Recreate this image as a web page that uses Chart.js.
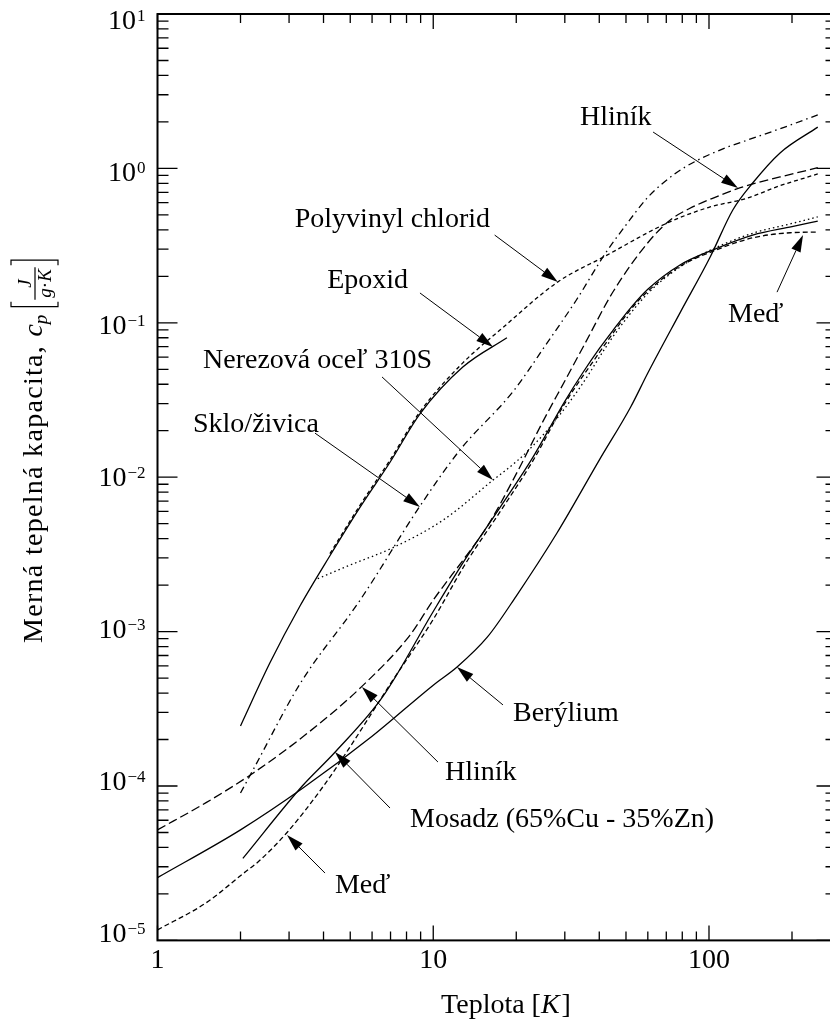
<!DOCTYPE html>
<html lang="sk">
<head>
<meta charset="utf-8">
<title>Merná tepelná kapacita</title>
<script src="https://cdn.jsdelivr.net/npm/chart.js@4/dist/chart.umd.min.js"></script>
<style>
  html, body { margin: 0; background: #fff; overflow: hidden; }
  canvas { display: block; }
</style>
</head>
<body>
<canvas id="chartCp" width="870" height="1024"></canvas>
<script>
const FONT = '"Liberation Serif", "Times New Roman", serif'

// temperature [K] and specific heat [J/(g·K)] for each material
const epoxidT  = [2, 2.56, 3.29, 4.22, 5.43, 6.97, 8.95, 12.8, 18.5]
const epoxidCp = [2.45e-4, 6.3e-4, 1.47e-3, 3.1e-3, 6.4e-3, 0.0125, 0.0257, 0.0517, 0.08]

const pvcT  = [4.22, 5.43, 6.97, 8.95, 12.8, 17.5, 28.3, 42, 70, 100, 137, 180, 248]
const pvcCp = [3.2e-3, 6.6e-3, 0.0129, 0.0265, 0.055, 0.09, 0.184, 0.27, 0.44, 0.56, 0.64, 0.77, 0.92]

const skloT  = [2, 2.22, 3.29, 5.43, 8.95, 12.5, 19.5, 26, 33, 42, 50, 60, 75, 90, 115, 137, 180, 248]
const skloCp = [9e-5, 1.27e-4, 4.6e-4, 1.6e-3, 6.5e-3, 0.015, 0.036, 0.075, 0.14, 0.28, 0.43, 0.65, 0.92, 1.12, 1.36, 1.52, 1.8, 2.22]

const ocelT  = [3.81, 5, 7.15, 10.9, 16.5, 20.2, 23, 27, 34, 45, 60, 80, 103, 144, 200, 248]
const ocelCp = [2.2e-3, 2.7e-3, 3.5e-3, 5.3e-3, 9.6e-3, 0.0128, 0.016, 0.022, 0.038, 0.082, 0.155, 0.235, 0.3, 0.38, 0.44, 0.485]

const hlinikT  = [1, 1.5, 2.22, 3.5, 5.5, 8.24, 10, 13, 15.7, 20, 25, 30, 35, 45, 60, 72, 85, 103, 130, 181, 248]
const hlinikCp = [5.2e-5, 7.8e-5, 1.21e-4, 2.2e-4, 4.4e-4, 9.5e-4, 1.6e-3, 3.0e-3, 4.8e-3, 0.0105, 0.023, 0.042, 0.07, 0.16, 0.33, 0.46, 0.55, 0.64, 0.75, 0.88, 1.01]

const mosadzT  = [2.04, 3.35, 4.41, 6.57, 10, 13, 17.5, 23, 30, 35, 40, 45, 52, 60, 78.5, 103, 144, 200, 248]
const mosadzCp = [3.4e-5, 1.0e-4, 1.66e-4, 3.8e-4, 1.35e-3, 2.9e-3, 6.4e-3, 0.0135, 0.031, 0.048, 0.068, 0.09, 0.125, 0.165, 0.237, 0.296, 0.37, 0.42, 0.456]

const medT  = [1, 1.5, 2.04, 2.35, 2.95, 4, 5, 7, 10, 13, 17.5, 23, 30, 40, 52, 60, 78.5, 103, 144, 197, 248]
const medCp = [1.17e-5, 1.75e-5, 2.7e-5, 3.3e-5, 5.0e-5, 1.0e-4, 1.8e-4, 4.6e-4, 1.2e-3, 2.7e-3, 6.0e-3, 0.0128, 0.03, 0.064, 0.122, 0.16, 0.232, 0.29, 0.355, 0.383, 0.387]

const beT  = [1, 2, 3.37, 6, 10, 12.2, 15.7, 20, 28.1, 40, 52, 60, 78.5, 101, 122, 144, 181, 248]
const beCp = [2.55e-5, 5.2e-5, 9.7e-5, 2.1e-4, 4.5e-4, 5.9e-4, 9.2e-4, 1.7e-3, 4.35e-3, 0.0129, 0.0285, 0.0473, 0.116, 0.267, 0.538, 0.804, 1.26, 1.85]

// axis ticks
const xTickLabels = [1, 10, 100]
const yExponents = [1, 0, -1, -2, -3, -4, -5]

// labels with arrows, positions in data units [T, cp]
const notes = [
  {text: 'Hliník', at: [34.06, 1.91], align: 'left', tail: [62.7, 1.72], tip: [127.4, 0.746]},
  {text: 'Polyvinyl chlorid', at: [16.06, 0.4173], align: 'right', tail: [16.7, 0.370], tip: [28.3, 0.1837]},
  {text: 'Epoxid', at: [8.10, 0.168], align: 'right', tail: [8.95, 0.156], tip: [16.47, 0.0697]},
  {text: 'Nerezová oceľ 310S', at: [1.462, 0.051], align: 'left', tail: [6.52, 0.0446], tip: [16.47, 0.00959]},
  {text: 'Sklo/živica', at: [1.345, 0.0196], align: 'left', tail: [3.725, 0.0193], tip: [8.95, 0.00641]},
  {text: 'Berýlium', at: [19.46, 2.64e-4], align: 'left', tail: [17.9, 3.35e-4], tip: [12.19, 5.9e-4]},
  {text: 'Hliník', at: [11.03, 1.094e-4], align: 'left', tail: [10.4, 1.43e-4], tip: [5.515, 4.38e-4]},
  {text: 'Mosadz (65%Cu - 35%Zn)', at: [8.24, 5.43e-5], align: 'left', tail: [6.97, 7.2e-5], tip: [4.40, 1.66e-4]},
  {text: 'Meď', at: [4.40, 2.03e-5], align: 'left', tail: [4.05, 2.73e-5], tip: [2.949, 4.82e-5]},
  {text: 'Meď', at: [117.2, 0.1012], align: 'left', tail: [176.5, 0.158], tip: [219.3, 0.370]},
]

const materials = [
  {label: 'Epoxid', t: epoxidT, cp: epoxidCp, dash: []},
  {label: 'Polyvinyl chlorid', t: pvcT, cp: pvcCp, dash: [4, 3]},
  {label: 'Sklo/živica', t: skloT, cp: skloCp, dash: [7, 4, 1.5, 4]},
  {label: 'Nerezová oceľ 310S', t: ocelT, cp: ocelCp, dash: [1.5, 3]},
  {label: 'Hliník', t: hlinikT, cp: hlinikCp, dash: [9, 4]},
  {label: 'Mosadz', t: mosadzT, cp: mosadzCp, dash: []},
  {label: 'Meď', t: medT, cp: medCp, dash: [5, 3]},
  {label: 'Berýlium', t: beT, cp: beCp, dash: []},
]

const datasets = materials.map(m => ({
  label: m.label,
  data: m.t.map((t, i) => ({x: t, y: m.cp[i]})),
  borderColor: '#000',
  borderWidth: 1.3,
  borderDash: m.dash,
  pointRadius: 0,
  fill: false,
  cubicInterpolationMode: 'monotone',
}))

function arrow(ctx, x0, y0, x1, y1) {
  const len = 17, half = 5
  const ang = Math.atan2(y1 - y0, x1 - x0)
  const bx = x1 - len * Math.cos(ang), by = y1 - len * Math.sin(ang)
  ctx.beginPath()
  ctx.moveTo(x0, y0)
  ctx.lineTo(bx, by)
  ctx.stroke()
  ctx.beginPath()
  ctx.moveTo(x1, y1)
  ctx.lineTo(bx + half * Math.sin(ang), by - half * Math.cos(ang))
  ctx.lineTo(bx - half * Math.sin(ang), by + half * Math.cos(ang))
  ctx.closePath()
  ctx.fill()
}

function drawYTitle(ctx, cx, cy) {
  ctx.save()
  ctx.translate(cx, cy)
  ctx.rotate(-Math.PI / 2)
  ctx.textAlign = 'left'
  ctx.textBaseline = 'alphabetic'
  ctx.letterSpacing = '1.3px'
  let x = 0
  ctx.font = `28px ${FONT}`
  const head = 'Merná tepelná kapacita, '
  ctx.fillText(head, x, 0)
  x += ctx.measureText(head).width
  ctx.letterSpacing = '0px'
  ctx.font = `italic 28px ${FONT}`
  ctx.fillText('c', x, 0)
  x += ctx.measureText('c').width
  ctx.font = `italic 19px ${FONT}`
  ctx.fillText('p', x, 5)
  x += ctx.measureText('p').width + 8

  // [ J / g·K ]
  ctx.font = `italic 19px ${FONT}`
  const numW = ctx.measureText('J').width
  const gW = ctx.measureText('g').width
  const kW = ctx.measureText('K').width
  ctx.font = `19px ${FONT}`
  const dotW = ctx.measureText('·').width
  const denW = gW + dotW + kW
  const fracW = Math.max(numW, denW) + 4
  const bar = -7
  ctx.lineWidth = 1.2
  ctx.beginPath()
  ctx.moveTo(x + 5, -31); ctx.lineTo(x, -31); ctx.lineTo(x, 16); ctx.lineTo(x + 5, 16)
  const fx = x + 7
  ctx.moveTo(fx, bar); ctx.lineTo(fx + fracW, bar)
  const rx = fx + fracW + 2
  ctx.moveTo(rx, -31); ctx.lineTo(rx + 5, -31); ctx.lineTo(rx + 5, 16); ctx.lineTo(rx, 16)
  ctx.stroke()
  ctx.font = `italic 19px ${FONT}`
  ctx.fillText('J', fx + (fracW - numW) / 2, bar - 4)
  let dx = fx + (fracW - denW) / 2
  ctx.fillText('g', dx, bar + 16)
  dx += gW
  ctx.font = `19px ${FONT}`
  ctx.fillText('·', dx, bar + 16)
  dx += dotW
  ctx.font = `italic 19px ${FONT}`
  ctx.fillText('K', dx, bar + 16)
  ctx.restore()
}

const frame = {
  id: 'frame',
  afterDraw(chart) {
    const {ctx, chartArea: a} = chart
    const sx = chart.scales.x, sy = chart.scales.y
    ctx.save()
    ctx.strokeStyle = '#000'
    ctx.fillStyle = '#000'

    // inward ticks on all four sides
    ctx.lineWidth = 1.3
    ctx.beginPath()
    for (const d of [1, 10, 100]) {
      for (let k = 1; k < 10; k++) {
        const v = d * k
        if (v > sx.max) break
        const px = sx.getPixelForValue(v)
        const len = k === 1 ? 15 : 9
        ctx.moveTo(px, a.bottom); ctx.lineTo(px, a.bottom - len)
        ctx.moveTo(px, a.top); ctx.lineTo(px, a.top + len)
      }
    }
    for (let e = -5; e <= 1; e++) {
      for (let k = 1; k < 10; k++) {
        const v = k * Math.pow(10, e)
        if (v > sy.max * 1.0001) break
        const py = sy.getPixelForValue(v)
        const len = k === 1 ? 20 : 11
        ctx.moveTo(a.left, py); ctx.lineTo(a.left + len, py)
        ctx.moveTo(a.right, py); ctx.lineTo(a.right - len, py)
      }
    }
    ctx.stroke()
    ctx.lineWidth = 2
    ctx.strokeRect(a.left, a.top, a.right - a.left, a.bottom - a.top)

    // tick labels
    ctx.textBaseline = 'alphabetic'
    for (const e of yExponents) {
      const py = sy.getPixelForValue(Math.pow(10, e))
      const base = py + 2 + (e + 5) * 2.2
      const sup = e < 0 ? '\u2212' + (-e) : String(e)
      ctx.font = `17px ${FONT}`
      const supW = ctx.measureText(sup).width
      ctx.textAlign = 'left'
      ctx.fillText(sup, a.left - 12 - supW, base - 8)
      ctx.font = `28px ${FONT}`
      ctx.textAlign = 'right'
      ctx.fillText('10', a.left - 13 - supW, base)
    }
    ctx.font = `28px ${FONT}`
    ctx.textAlign = 'center'
    for (const v of xTickLabels) {
      ctx.fillText(String(v), sx.getPixelForValue(v), a.bottom + 28)
    }

    // x title: Teplota [K]
    ctx.textAlign = 'left'
    ctx.font = `28px ${FONT}`
    const w1 = ctx.measureText('Teplota [').width
    const w3 = ctx.measureText(']').width
    ctx.font = `italic 28px ${FONT}`
    const w2 = ctx.measureText('K').width + 2
    const tx = 506 - (w1 + w2 + w3) / 2
    ctx.font = `28px ${FONT}`
    ctx.fillText('Teplota [', tx, a.bottom + 73)
    ctx.font = `italic 28px ${FONT}`
    ctx.fillText('K', tx + w1, a.bottom + 73)
    ctx.font = `28px ${FONT}`
    ctx.fillText(']', tx + w1 + w2, a.bottom + 73)

    drawYTitle(ctx, 42, 643)

    // material labels and arrows
    ctx.font = `28px ${FONT}`
    ctx.lineWidth = 1
    for (const n of notes) {
      ctx.textAlign = n.align
      ctx.fillText(n.text, sx.getPixelForValue(n.at[0]), sy.getPixelForValue(n.at[1]))
      arrow(ctx,
        sx.getPixelForValue(n.tail[0]), sy.getPixelForValue(n.tail[1]),
        sx.getPixelForValue(n.tip[0]), sy.getPixelForValue(n.tip[1]))
    }
    ctx.restore()
  }
}

new Chart(document.getElementById('chartCp'), {
  type: 'line',
  data: {datasets},
  options: {
    responsive: false,
    animation: false,
    events: [],
    layout: {padding: {left: 157.5, right: 33.5, top: 14, bottom: 83.6}},
    plugins: {
      legend: {display: false},
      tooltip: {enabled: false},
    },
    scales: {
      x: {type: 'logarithmic', min: 1, max: 290, display: false},
      y: {type: 'logarithmic', min: 1e-5, max: 10, display: false},
    },
  },
  plugins: [frame],
})
</script>
</body>
</html>
